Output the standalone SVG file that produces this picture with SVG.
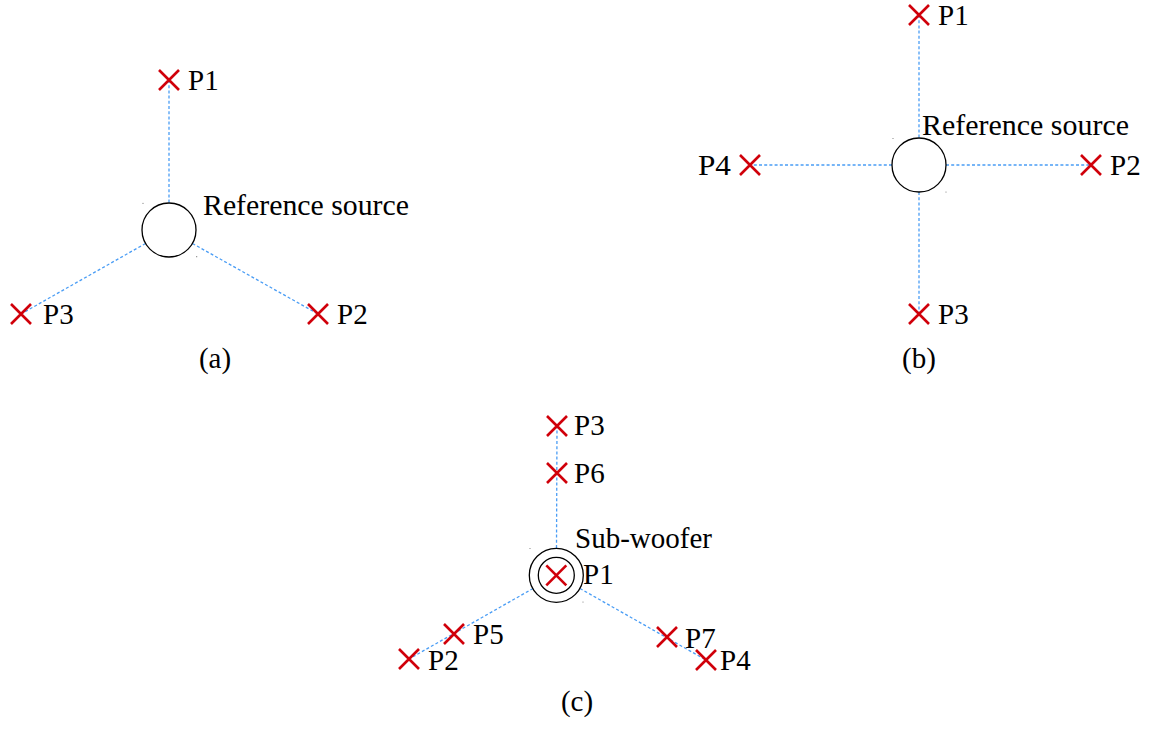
<svg xmlns="http://www.w3.org/2000/svg" width="1153" height="729" viewBox="0 0 1153 729">
<defs>
<style>
text{font-family:"Liberation Serif","DejaVu Serif",serif;font-size:29px;fill:#000}
.cap{text-anchor:middle}
.src{fill:none;stroke:#000;stroke-width:1.3}
.dot{fill:#777}
.conn line{stroke:#4a9df5;stroke-width:1.3;stroke-dasharray:3 2.2;fill:none}
</style>
<path id="x" d="M-10,-10L10,10M-10,10L10,-10" stroke="#d0000a" stroke-width="2.6" fill="none"/>
</defs>
<rect width="1153" height="729" fill="#fff"/>

<!-- connectors -->
<g id="connectors" class="conn">
<!-- (a) -->
<line x1="169" y1="80" x2="169" y2="203"/>
<line x1="145.5" y1="243.5" x2="21" y2="314"/>
<line x1="192.5" y1="243.5" x2="318" y2="314"/>
<!-- (b) -->
<line x1="919" y1="15" x2="919" y2="138"/>
<line x1="919" y1="192" x2="919" y2="314"/>
<line x1="892" y1="165" x2="750" y2="165"/>
<line x1="946" y1="165" x2="1091" y2="165"/>
<!-- (c) -->
<line x1="556.5" y1="548" x2="557" y2="426"/>
<line x1="533" y1="588.5" x2="409" y2="659"/>
<line x1="580" y1="588.5" x2="706" y2="660"/>
</g>

<!-- panel (a) -->
<g id="a-source">
<circle class="src" cx="169" cy="230" r="27"/>
<circle class="dot" cx="143" cy="203.3" r="0.6"/>
<circle class="dot" cx="196.7" cy="256.7" r="0.6"/>
<text x="203" y="215" textLength="206" lengthAdjust="spacingAndGlyphs">Reference source</text>
</g>
<g id="a-P1"><use href="#x" x="169" y="80"/><text x="188" y="90">P1</text></g>
<g id="a-P2"><use href="#x" x="318" y="314"/><text x="337" y="324">P2</text></g>
<g id="a-P3"><use href="#x" x="21" y="314"/><text x="43" y="324">P3</text></g>
<text class="cap" x="215" y="368">(a)</text>

<!-- panel (b) -->
<g id="b-source">
<circle class="src" cx="919" cy="165" r="27"/>
<circle class="dot" cx="893" cy="138.5" r="0.6"/>
<circle class="dot" cx="946" cy="192" r="0.6"/>
<text x="922" y="135" textLength="207" lengthAdjust="spacingAndGlyphs">Reference source</text>
</g>
<g id="b-P1"><use href="#x" x="919" y="15"/><text x="938" y="25">P1</text></g>
<g id="b-P2"><use href="#x" x="1091" y="165"/><text x="1110" y="175">P2</text></g>
<g id="b-P3"><use href="#x" x="919" y="314"/><text x="938" y="324">P3</text></g>
<g id="b-P4"><use href="#x" x="750" y="165"/><text x="698" y="175" textLength="33" lengthAdjust="spacingAndGlyphs">P4</text></g>
<text class="cap" x="919" y="368">(b)</text>

<!-- panel (c) -->
<g id="c-subwoofer">
<circle class="src" cx="556.3" cy="575.3" r="27"/>
<circle class="src" cx="556.3" cy="575.3" r="18"/>
<circle class="dot" cx="530" cy="548.5" r="0.6"/>
<circle class="dot" cx="583" cy="602" r="0.6"/>
<text x="575" y="548" textLength="137" lengthAdjust="spacingAndGlyphs">Sub-woofer</text>
</g>
<g id="c-P1"><use href="#x" x="556.3" y="575.3"/><text x="583" y="584">P1</text></g>
<g id="c-P3"><use href="#x" x="557" y="426"/><text x="574" y="435">P3</text></g>
<g id="c-P6"><use href="#x" x="557" y="473"/><text x="574" y="483">P6</text></g>
<g id="c-P5"><use href="#x" x="454" y="634"/><text x="473" y="644">P5</text></g>
<g id="c-P2"><use href="#x" x="409" y="659"/><text x="428" y="670">P2</text></g>
<g id="c-P7"><use href="#x" x="667" y="637"/><text x="685" y="648">P7</text></g>
<g id="c-P4"><use href="#x" x="706" y="660"/><text x="720" y="670">P4</text></g>
<text class="cap" x="577" y="711">(c)</text>
</svg>
